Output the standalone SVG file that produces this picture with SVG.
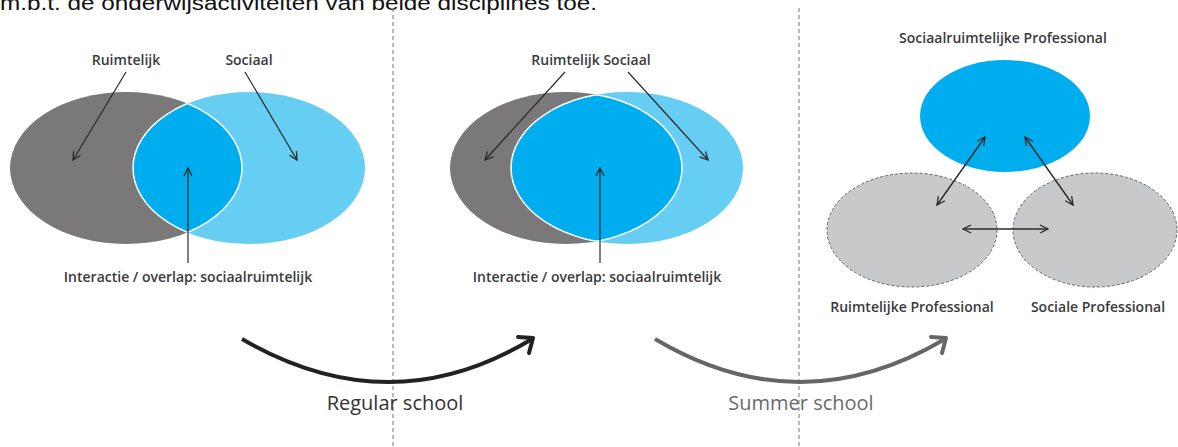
<svg xmlns="http://www.w3.org/2000/svg" width="1178" height="447" viewBox="0 0 1178 447">
<style>
.lbl{font-family:"Open Sans","Liberation Sans",sans-serif;font-weight:600;font-size:14px;fill:#3a3a3a;text-anchor:middle}
.big{font-family:"Open Sans","Liberation Sans",sans-serif;font-size:20px;text-anchor:middle}
.arr{stroke:#2a2a2a;stroke-width:1.2;fill:none;marker-end:url(#ah)}
.darr{stroke:#2a2a2a;stroke-width:1.4;fill:none;marker-end:url(#ah);marker-start:url(#ah)}
.sep{stroke:#777;stroke-width:1;stroke-dasharray:4 3}
.dark{fill:#7a7879}
.light{fill:#66cdf3}
.blue{fill:#00adee}
.grey{fill:#c8c9cb;stroke:#666;stroke-width:1;stroke-dasharray:3 2}
</style>
<defs>
<marker id="ah" viewBox="0 0 10 10" refX="9" refY="5" markerWidth="10" markerHeight="10" markerUnits="userSpaceOnUse" orient="auto-start-reverse">
<path d="M1,1 L9,5 L1,9" fill="none" stroke="#2a2a2a" stroke-width="1.3"/>
</marker>
<clipPath id="clipL"><ellipse cx="126" cy="168" rx="116" ry="76"/></clipPath>
<clipPath id="clipM"><ellipse cx="566" cy="168" rx="116" ry="76"/></clipPath>
<clipPath id="clipR1"><ellipse cx="249" cy="168" rx="116" ry="76"/></clipPath>
<clipPath id="clipR2"><ellipse cx="627" cy="168" rx="116" ry="76"/></clipPath>
</defs>
<rect width="1178" height="447" fill="#fff"/>
<text x="0" y="10" font-family="'Liberation Sans',Arial,sans-serif" font-size="20" fill="#111" textLength="597" lengthAdjust="spacingAndGlyphs">m.b.t. de onderwijsactiviteiten van beide disciplines toe.</text>
<g id="separators">
<line class="sep" x1="393" y1="8" x2="393" y2="447"/>
<line class="sep" x1="799" y1="8" x2="799" y2="447"/>
</g>
<g id="venn-regular">
<ellipse class="dark" cx="126" cy="168" rx="116" ry="76"/>
<ellipse class="light" cx="249" cy="168" rx="116" ry="76"/>
<ellipse class="blue" cx="249" cy="168" rx="116" ry="76" clip-path="url(#clipL)"/>
<g clip-path="url(#clipL)"><ellipse cx="249" cy="168" rx="116" ry="76" fill="none" stroke="#fff" stroke-width="1.5"/></g>
<g clip-path="url(#clipR1)"><ellipse cx="126" cy="168" rx="116" ry="76" fill="none" stroke="#fff" stroke-width="1.5"/></g>
</g>
<g id="venn-summer">
<ellipse class="dark" cx="566" cy="168" rx="116" ry="76"/>
<ellipse class="light" cx="627" cy="168" rx="116" ry="76"/>
<ellipse class="blue" cx="627" cy="168" rx="116" ry="76" clip-path="url(#clipM)"/>
<g clip-path="url(#clipM)"><ellipse cx="627" cy="168" rx="116" ry="76" fill="none" stroke="#fff" stroke-width="1.5"/></g>
<g clip-path="url(#clipR2)"><ellipse cx="566" cy="168" rx="116" ry="76" fill="none" stroke="#fff" stroke-width="1.5"/></g>
</g>
<g id="node-sociaalruimtelijke">
<ellipse class="blue" cx="1005" cy="116" rx="85" ry="56"/>
<text class="lbl" x="1003" y="43">Sociaalruimtelijke Professional</text>
</g>
<g id="node-ruimtelijke">
<ellipse class="grey" cx="912" cy="230" rx="85" ry="57"/>
<text class="lbl" x="912" y="312">Ruimtelijke Professional</text>
</g>
<g id="node-sociale">
<ellipse class="grey" cx="1095" cy="230" rx="82" ry="57"/>
<text class="lbl" x="1098" y="312">Sociale Professional</text>
</g>
<g id="labels">
<text class="lbl" x="126" y="65">Ruimtelijk</text>
<text class="lbl" x="249" y="65">Sociaal</text>
<text class="lbl" x="188" y="282">Interactie / overlap: sociaalruimtelijk</text>
<text class="lbl" x="591" y="65">Ruimtelijk Sociaal</text>
<text class="lbl" x="597" y="282">Interactie / overlap: sociaalruimtelijk</text>
<text class="big" x="395" y="410" fill="#333">Regular school</text>
<text class="big" x="801" y="410" fill="#6a6a6a">Summer school</text>
</g>
<g id="connectors">
<line class="arr" x1="126" y1="72" x2="73" y2="160"/>
<line class="arr" x1="245" y1="72" x2="297" y2="160"/>
<line class="arr" x1="188" y1="263" x2="188" y2="168"/>
<line class="arr" x1="565" y1="72" x2="485" y2="160"/>
<line class="arr" x1="628" y1="72" x2="708" y2="160"/>
<line class="arr" x1="600" y1="263" x2="600" y2="168"/>
<line class="darr" x1="985" y1="137" x2="937" y2="205"/>
<line class="darr" x1="1025" y1="137" x2="1073" y2="205"/>
<line class="darr" x1="963" y1="229" x2="1048" y2="229"/>
<path d="M242,339 Q390,425 532,339" fill="none" stroke="#222" stroke-width="4"/>
<polyline points="518,337 533,338 529,353" fill="none" stroke="#222" stroke-width="4" stroke-linecap="round" stroke-linejoin="round"/>
<path d="M655,339 Q800,425 945,339" fill="none" stroke="#666" stroke-width="4"/>
<polyline points="931,337 946,338 942,353" fill="none" stroke="#666" stroke-width="4" stroke-linecap="round" stroke-linejoin="round"/>
</g>
</svg>
